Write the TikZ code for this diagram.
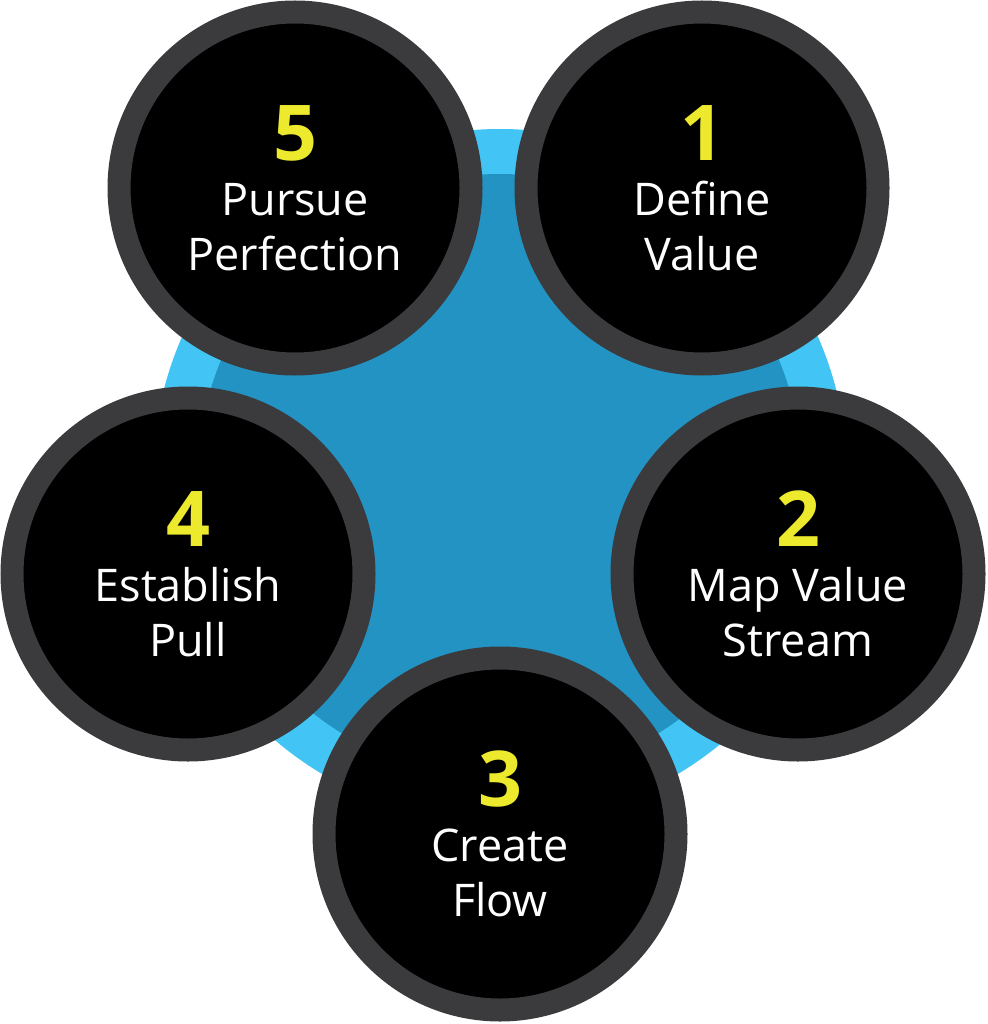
\documentclass[tikz,border=0pt]{standalone}
\usepackage{fontspec}
\setmainfont{Open Sans}
\definecolor{skyblue}{HTML}{42C5F4}
\definecolor{deepblue}{HTML}{2393C3}
\definecolor{ringgrey}{HTML}{3B3B3D}
\definecolor{numyellow}{HTML}{EDE92D}
\newcommand{\stepnum}[1]{{\fontsize{77}{77}\selectfont\bfseries\color{numyellow}#1}}

\begin{document}
\begin{tikzpicture}[
  x=1pt, y=-1pt,
  stepcirc/.style={circle, draw=ringgrey, line width=23pt, fill=black, minimum size=352pt,
    inner sep=0pt, align=center, text=white, font=\fontsize{45}{55}\selectfont}
]
  \useasboundingbox (0,0) rectangle (987,1024);

  % background disc
  \fill[skyblue] (500,476) circle[radius=347];
  \fill[deepblue] (500,476) circle[radius=302];

  \node[stepcirc] (S1) at (702,188) {\stepnum{1}\\Define\\Value};
  \node[stepcirc] (S2) at (798,574) {\stepnum{2}\\Map Value\\Stream};
  \node[stepcirc] (S3) at (500,834) {\stepnum{3}\\Create\\Flow};
  \node[stepcirc] (S4) at (188,574) {\stepnum{4}\\Establish\\Pull};
  \node[stepcirc] (S5) at (295,188) {\stepnum{5}\\Pursue\\Perfection};
\end{tikzpicture}
\end{document}
